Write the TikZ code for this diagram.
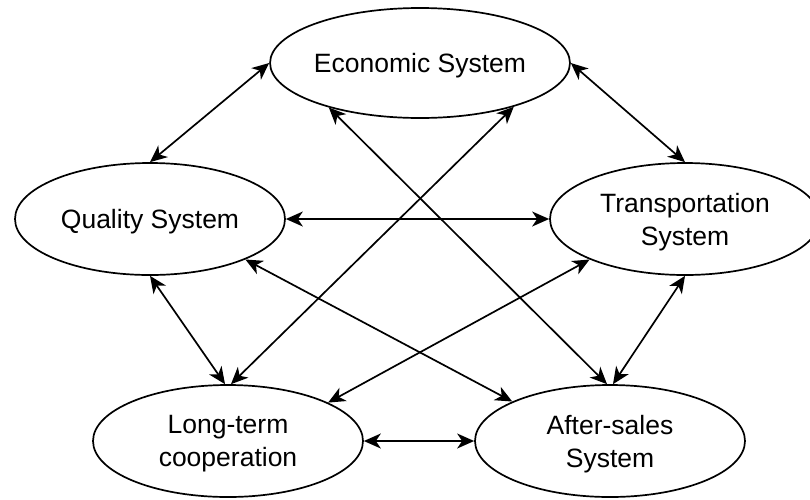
\documentclass[tikz,border=0pt]{standalone}
\usepackage{fontspec}
\setmainfont{Liberation Sans}
\usetikzlibrary{shapes.geometric,arrows.meta}
\begin{document}
\begin{tikzpicture}[x=1pt,y=-1pt,
  sysnode/.style={ellipse,draw,line width=1.7pt,minimum width=270pt,minimum height=112pt,inner sep=0pt,
    align=center,font=\fontsize{26.5}{33}\selectfont,text depth=0pt},
  link/.style={line width=1.7pt,{Stealth[length=17pt,width=15pt,inset=5pt]}-{Stealth[length=17pt,width=15pt,inset=5pt]}}
]
\useasboundingbox (0,0) rectangle (810,499);
\clip (0,0) rectangle (810,499);
\node[sysnode,minimum height=110pt] (econ) at (420,63) {Economic System};
\node[sysnode] (qual) at (150,219) {Quality System};
\node[sysnode] (trans) at (685,219) {Transportation\\System};
\node[sysnode] (long) at (228,441) {Long-term\\cooperation};
\node[sysnode] (after) at (610,441) {After-sales\\System};

\draw[link] (econ.west) -- (qual.north);
\draw[link] (econ.east) -- (trans.north);
\draw[link] (qual.east) -- (trans.west);
\draw[link] (qual.south) -- (long.93);
\draw[link] (trans.south) -- (after.87);
\draw[link] (long.east) -- (after.west);
\draw[link] (econ.-25) -- (long.87);
\draw[link] (econ.206) -- (after.93);
\draw[link] (qual.-23) -- (after.158);
\draw[link] (trans.203) -- (long.21);
\end{tikzpicture}
\end{document}
